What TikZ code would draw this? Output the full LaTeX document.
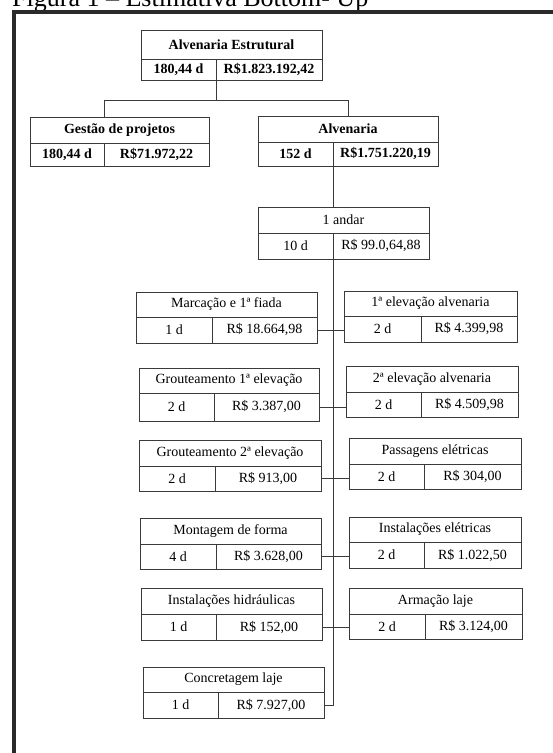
\documentclass[tikz,border=0pt]{standalone}
\usepackage{fontspec}
\setmainfont{Liberation Serif}
\usepackage{xcolor,tikz}
\usetikzlibrary{positioning,calc}
\definecolor{wbsLine}{HTML}{3A3A3A}
\definecolor{wbsFrame}{HTML}{2A2A2A}
\tikzset{
  wbs cell/.style={
    rectangle, draw=wbsLine, fill=white,
    line width=0.9pt, inner sep=0pt, outer sep=0pt,
    anchor=north west, align=center,
  },
  bold cell/.style={font=\fontsize{14}{16}\selectfont\bfseries},
  plain cell/.style={font=\fontsize{14}{16}\selectfont},
  wbs link/.style={draw=wbsLine, line width=0.9pt},
  frame line/.style={draw=wbsFrame, line width=3.2pt},
}

\begin{document}
\begin{tikzpicture}[x=1pt,y=-1pt]

% --- CANVAS ---
\path[use as bounding box, fill=white] (0,0) rectangle (553,753);

% --- PARAMETERS ---
% id / left / divider / right / top / row line / bottom / style / task / duration / cost
\def\tasks{%
  0/141/216/322/30/59/80/bold cell/Alvenaria Estrutural/{180,44 d}/{R\$1.823.192,42},%
  1/30/104/209/117/143/166/bold cell/Gestão de projetos/{180,44 d}/{R\$71.972,22},%
  2/258/333/438/116/142/166/bold cell/Alvenaria/152 d/{R\$1.751.220,19},%
  3/258/333/429/207/233/259/plain cell/1 andar/10 d/{R\$ 99.0,64,88},%
  4/136/212/317/292/317/343/plain cell/Marcação e 1ª fiada/1 d/{R\$ 18.664,98},%
  5/344/421/517/291/316/342/plain cell/1ª elevação alvenaria/2 d/{R\$ 4.399,98},%
  6/139/214/319/368/393/421/plain cell/Grouteamento 1ª elevação/2 d/{R\$ 3.387,00},%
  7/346/421/518/366/392/417/plain cell/2ª elevação alvenaria/2 d/{R\$ 4.509,98},%
  8/139/215/321/440/466/491/plain cell/Grouteamento 2ª elevação/2 d/{R\$ 913,00},%
  9/349/424/521/438/464/489/plain cell/Passagens elétricas/2 d/{R\$ 304,00},%
  10/140/216/321/518/544/569/plain cell/Montagem de forma/4 d/{R\$ 3.628,00},%
  11/349/424/521/517/542/568/plain cell/Instalações elétricas/2 d/{R\$ 1.022,50},%
  12/141/216/322/588/614/640/plain cell/Instalações hidráulicas/1 d/{R\$ 152,00},%
  13/349/425/522/588/614/639/plain cell/Armação laje/2 d/{R\$ 3.124,00},%
  14/143/218/324/667/692/718/plain cell/Concretagem laje/1 d/{R\$ 7.927,00}%
}
\def\rowpairs{4/5, 6/7, 8/9, 10/11, 12/13}  % left box / right box

% --- TITLE AND FRAME ---
\node[font=\fontsize{26}{28}\selectfont, anchor=base west, inner sep=0pt]
  (fig title) at (12,6) {Figura 1 – Estimativa Bottom- Up};
\draw[frame line] (14,760) -- (14,12) -- (560,12);

% --- DRAW TASK BOXES ---
\foreach \id/\xl/\xd/\xr/\yt/\ym/\yb/\fw/\ttl/\dur/\cost in \tasks {
  \pgfmathsetmacro\boxW{\xr-\xl}
  \pgfmathsetmacro\headH{\ym-\yt}
  \pgfmathsetmacro\rowH{\yb-\ym}
  \pgfmathsetmacro\durW{\xd-\xl}
  \pgfmathsetmacro\costW{\xr-\xd}
  \node[wbs cell, \fw, minimum width=\boxW pt, minimum height=\headH pt]
    (t\id-h) at (\xl,\yt) {\ttl};
  \node[wbs cell, \fw, minimum width=\durW pt, minimum height=\rowH pt]
    (t\id-d) at (\xl,\ym) {\dur};
  \node[wbs cell, \fw, minimum width=\costW pt, minimum height=\rowH pt]
    (t\id-c) at (\xd,\ym) {\cost};
}

% --- TOP LEVEL LINKS ---
\draw[wbs link] (t0-d.south east) -- ++(0,20) coordinate (j0);
\draw[wbs link] (j0) -| (t1-d.east |- t1-h.north);
\draw[wbs link] (j0) -| (t2-h.north);

% --- TRUNK ---
\draw[wbs link] (t2-d.south east) -- (t2-d.south east |- t3-h.north);
\draw[wbs link] (t3-d.south east) -- (t3-d.south east |- t14-c.east) -- (t14-c.east);

% --- ROW LINKS ---
\foreach \a/\b in \rowpairs {
  \draw[wbs link] (t\a-c.east) -- (t\a-c.east -| t\b-d.west);
}

\end{tikzpicture}
\end{document}
